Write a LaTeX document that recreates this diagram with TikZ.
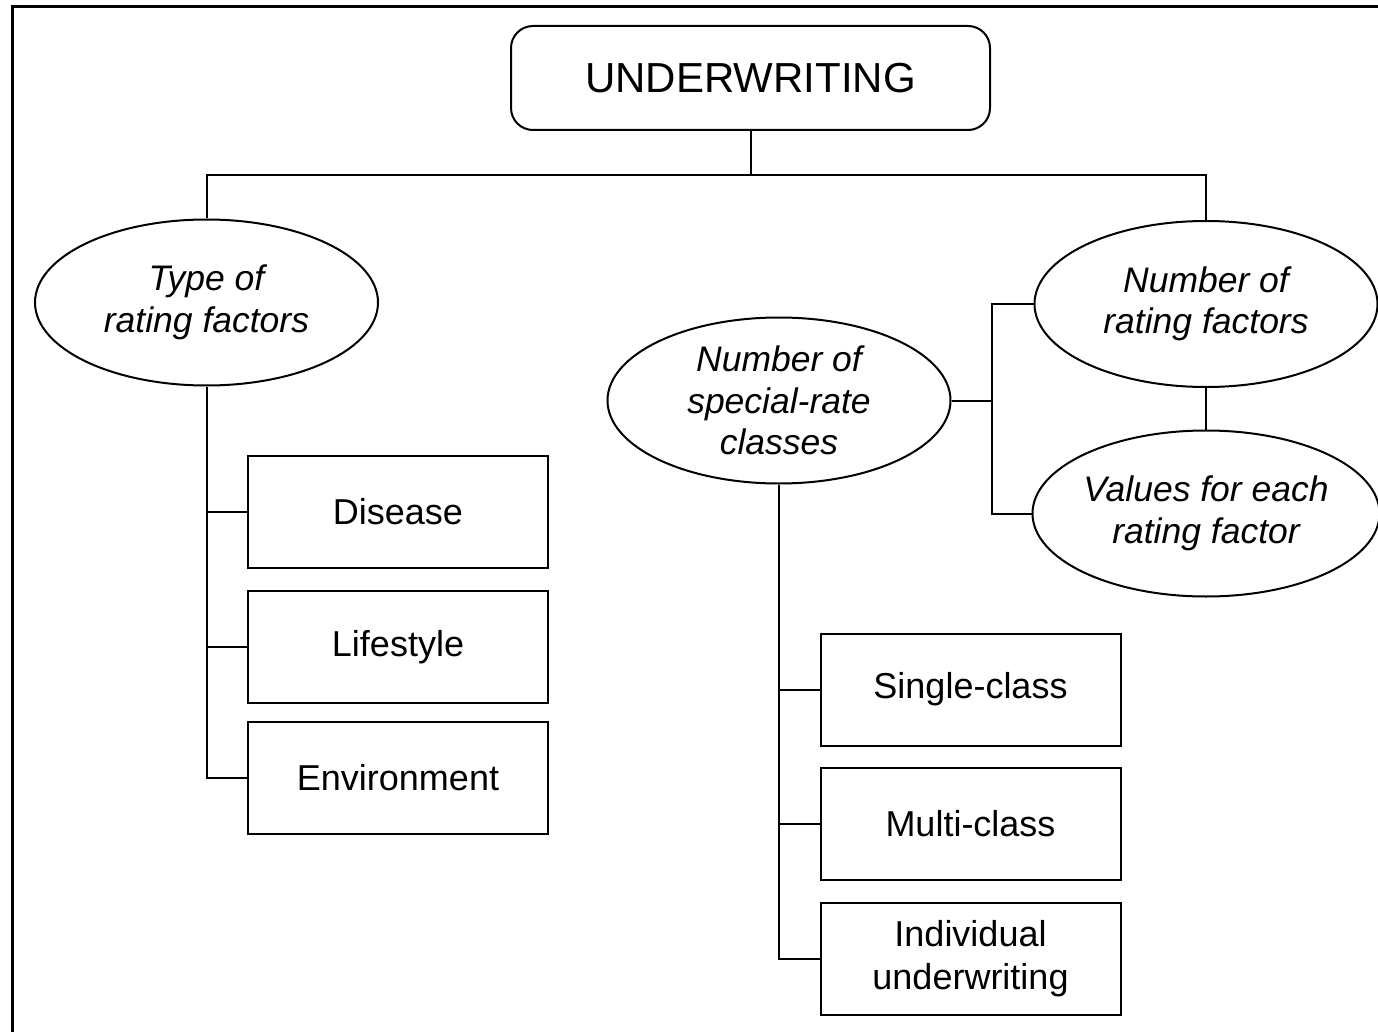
\documentclass[tikz,border=0pt]{standalone}
\usepackage{fontspec}
\setmainfont{Liberation Sans}
\usetikzlibrary{shapes.geometric}
\begin{document}
\begin{tikzpicture}[x=1pt,y=-1pt,
  line width=2pt,
  topbox/.style={draw, rounded corners=22pt, minimum width=479pt, minimum height=104pt,
    inner sep=0pt, font=\fontsize{42}{48}\selectfont},
  oval/.style={draw, ellipse, minimum width=343pt, minimum height=166pt, inner sep=0pt,
    align=center, font=\fontsize{35.5}{41.5}\selectfont\itshape},
  leaf/.style={draw, rectangle, minimum width=300pt, minimum height=112pt, inner sep=0pt,
    align=center, font=\fontsize{36}{43}\selectfont}]
\useasboundingbox (0,0) rectangle (1378,1032);
% outer frame (runs past the right and bottom edges)
\begin{scope}
  \clip (0,0) rectangle (1378,1032);
  \draw[line width=3pt] (12.5,6.5) rectangle (1400,1050);
\end{scope}

% root
\node[topbox] (uw) at (750.5,78) {UNDERWRITING};

% criteria
\node[oval] (trf) at (206.5,302.5) {Type of\\rating factors};
\node[oval] (nsc) at (779,400.5) {Number of\\special-rate\\classes};
\node[oval] (nrf) at (1206,304) {Number of\\rating factors};
\node[oval] (vrf) at (1206,513.5) {Values for each\\rating factor};

% types of rating factors
\node[leaf] (dis)  at (398,512) {Disease};
\node[leaf] (life) at (398,647) {Lifestyle};
\node[leaf] (env)  at (398,778) {Environment};

% special-rate classes
\node[leaf] (sc) at (970.5,689.5) {Single-class};
\node[leaf] (mc) at (970.5,824) {Multi-class};
\node[leaf] (iu) at (970.5,959) {Individual\\underwriting};

% top level bus
\coordinate (bus) at (751,175);
\draw (uw.south) -- (uw.south |- bus);
\draw (trf.north) |- (bus) -| (nrf.north);

% left branch
\draw (trf.south) |- (env.west);
\draw (trf.south |- dis.west) -- (dis.west);
\draw (trf.south |- life.west) -- (life.west);

% middle branch
\draw (nsc.south) |- (iu.west);
\draw (nsc.south |- sc.west) -- (sc.west);
\draw (nsc.south |- mc.west) -- (mc.west);

% right branch
\coordinate (rb) at (992,402);
\draw (nsc.east) -- (nsc.east -| rb);
\draw (nrf.west) -- (nrf.west -| rb) -- (vrf.west -| rb) -- (vrf.west);
\draw (nrf.south) -- (vrf.north);
\end{tikzpicture}
\end{document}
